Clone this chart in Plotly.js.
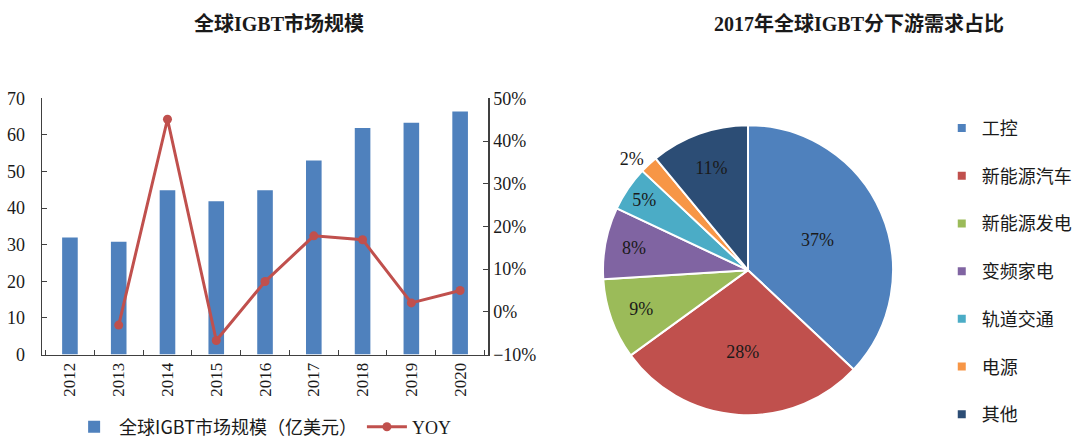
<!DOCTYPE html>
<html>
<head>
<meta charset="utf-8">
<script src="https://cdn.plot.ly/plotly-3.0.1.min.js"></script>
<style>
  html, body { margin: 0; padding: 0; background: #fff; }
  #chart { width: 1080px; height: 446px; }
</style>
</head>
<body>
<div id="chart"></div>
<script>
const years = ['2012', '2013', '2014', '2015', '2016', '2017', '2018', '2019', '2020'];
const marketSize = [32, 30.8, 44.9, 41.9, 44.9, 53, 61.9, 63.3, 66.4];
const yoy = [null, -3.1, 45.1, -6.7, 7.1, 17.8, 16.9, 2.1, 5.0];

const segments = ['工控', '新能源汽车', '新能源发电', '变频家电', '轨道交通', '电源', '其他'];
const shares = [37, 28, 9, 8, 5, 2, 11];
const segmentColors = ['#4F81BD', '#C0504D', '#9BBB59', '#8064A2', '#4BACC6', '#F79646', '#2C4D75'];

const serif = '"Liberation Serif", "Times New Roman", serif';
const cjk = '"Noto Sans CJK SC", "Noto Sans", sans-serif';
const titleFont = '"Liberation Serif", "Noto Sans CJK SC", serif';

const barTrace = {
  type: 'bar',
  x: years,
  y: marketSize,
  name: '全球IGBT市场规模（亿美元）',
  marker: { color: '#4F81BD' },
  xaxis: 'x',
  yaxis: 'y',
  hoverinfo: 'skip'
};

const yoyTrace = {
  type: 'scatter',
  mode: 'lines+markers',
  x: years,
  y: yoy,
  name: '<span style="font-family:Liberation Serif">YOY</span>',
  line: { color: '#C0504D', width: 3 },
  marker: { color: '#C0504D', size: 9 },
  xaxis: 'x',
  yaxis: 'y2',
  hoverinfo: 'skip'
};

const pieTrace = {
  type: 'pie',
  labels: segments,
  values: shares,
  sort: false,
  direction: 'clockwise',
  rotation: 0,
  marker: { colors: segmentColors, line: { color: '#fff', width: 2 } },
  texttemplate: '%{value}%',
  textposition: ['inside', 'inside', 'inside', 'inside', 'inside', 'outside', 'inside'],
  insidetextorientation: 'horizontal',
  textfont: { family: serif, size: 18, color: '#1a1a1a' },
  domain: { x: [0.5574, 0.8278], y: [0.0628, 0.7175] },
  showlegend: false,
  hoverinfo: 'skip'
};

// legend entries for the pie, one group each so they can be spaced out
const pieLegend = segments.map((name, i) => ({
  type: 'scatter',
  mode: 'markers',
  x: [null],
  y: [null],
  name: name,
  legend: 'legend2',
  legendgroup: 'g' + i,
  marker: { symbol: 'square', size: 8, color: segmentColors[i] },
  xaxis: 'x3',
  yaxis: 'y3',
  hoverinfo: 'skip'
}));

const data = [barTrace, yoyTrace, pieTrace, ...pieLegend];

const axisLine = '#404040';

const layout = {
  width: 1080,
  height: 446,
  margin: { l: 0, r: 0, t: 0, b: 0 },
  paper_bgcolor: '#fff',
  plot_bgcolor: '#fff',
  bargap: 0.68,
  showlegend: true,
  xaxis: {
    domain: [0.0389, 0.4519],
    type: 'category',
    showline: true,
    linecolor: axisLine,
    linewidth: 1.5,
    ticks: 'inside',
    tickson: 'boundaries',
    ticklen: 5,
    tickcolor: axisLine,
    tickangle: -90,
    tickfont: { family: serif, size: 17, color: '#1a1a1a' },
    showgrid: false,
    zeroline: false,
    anchor: 'y'
  },
  yaxis: {
    domain: [0.1996, 0.778],
    range: [0, 70],
    dtick: 10,
    showline: true,
    linecolor: axisLine,
    linewidth: 1.5,
    ticks: 'inside',
    ticklen: 5,
    tickcolor: axisLine,
    ticklabelstandoff: 12,
    tickfont: { family: serif, size: 18, color: '#1a1a1a' },
    showgrid: false,
    zeroline: false,
    anchor: 'x'
  },
  yaxis2: {
    overlaying: 'y',
    side: 'right',
    range: [-10, 50],
    dtick: 10,
    ticksuffix: '%',
    showline: true,
    linecolor: axisLine,
    linewidth: 1.5,
    ticks: 'inside',
    ticklen: 5,
    tickcolor: axisLine,
    tickfont: { family: serif, size: 18, color: '#1a1a1a' },
    showgrid: false,
    zeroline: false,
    anchor: 'x'
  },
  xaxis3: { domain: [0.99, 1], visible: false, anchor: 'y3' },
  yaxis3: { domain: [0.99, 1], visible: false, anchor: 'x3' },
  legend: {
    orientation: 'h',
    x: 0.064,
    xanchor: 'left',
    y: 0.036,
    yanchor: 'middle',
    font: { family: cjk, size: 18, color: '#1a1a1a' },
    itemwidth: 40,
    bgcolor: 'rgba(0,0,0,0)'
  },
  legend2: {
    orientation: 'v',
    x: 0.872,
    xanchor: 'left',
    y: 0.752,
    yanchor: 'top',
    font: { family: cjk, size: 18, color: '#1a1a1a' },
    tracegroupgap: 21.3,
    bgcolor: 'rgba(0,0,0,0)'
  },
  annotations: [
    {
      text: '<b>全球IGBT市场规模</b>',
      xref: 'paper', yref: 'paper',
      x: 0.258, y: 0.948,
      xanchor: 'center', yanchor: 'middle',
      showarrow: false,
      font: { family: titleFont, size: 20, color: '#1a1a1a' }
    },
    {
      text: '<b>2017年全球IGBT分下游需求占比</b>',
      xref: 'paper', yref: 'paper',
      x: 0.795, y: 0.948,
      xanchor: 'center', yanchor: 'middle',
      showarrow: false,
      font: { family: titleFont, size: 20, color: '#1a1a1a' }
    }
  ]
};

Plotly.newPlot('chart', data, layout, { staticPlot: true, displayModeBar: false });
</script>
</body>
</html>
